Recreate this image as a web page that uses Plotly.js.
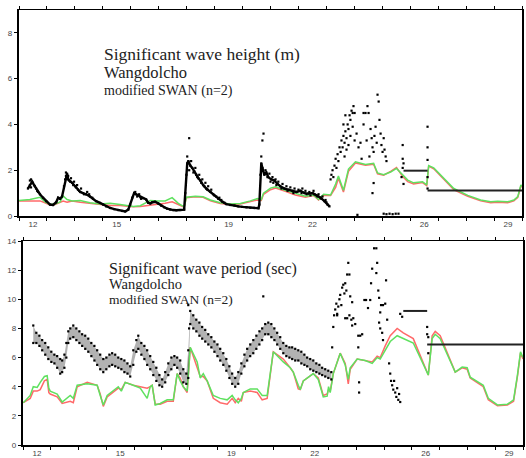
<!DOCTYPE html>
<html><head><meta charset="utf-8">
<script src="https://cdn.plot.ly/plotly-3.0.1.min.js"></script>
<style>html,body{margin:0;padding:0;background:#fff;}#chart{width:526px;height:458px;}</style>
</head><body><div id="chart"></div>
<script>
// ---- shared axis labels ----
const dayLabels = ['12','15','19','22','26','29'];
const dayLabelPos = [12.5,15.5,19.5,22.5,26.5,29.5];

// ---- top panel: significant wave height (m) ----
const hsObsDay = [
12.32,12.39,12.47,12.54,12.61,12.68,12.75,12.86,12.97,13.11,
13.22,13.33,13.40,13.47,13.54,13.61,13.68,13.72,13.76,13.83,
13.90,14.01,14.11,14.19,14.29,14.40,14.54,14.65,14.76,14.90,
15.01,15.12,15.26,15.41,15.55,15.69,15.80,15.91,15.98,16.05,
16.12,16.19,16.27,16.34,16.44,16.55,16.62,16.70,16.77,16.87,
16.98,17.09,17.20,17.30,17.41,17.52,17.63,17.77,17.91,17.95,
17.99,18.02,18.06,18.13,18.20,18.27,18.34,18.42,18.49,18.59,
18.70,18.85,18.99,19.13,19.28,19.42,19.56,19.71,19.85,19.99,
20.14,20.28,20.42,20.57,20.60,20.64,20.67,20.71,20.78,20.85,
20.92,21.03,21.14,21.25,21.35,21.50,21.64,21.78,21.93,22.07,
22.22,22.36,22.50,22.65,22.79,22.93,23.04,23.11];
const hsObsVal = [
1.2,1.35,1.5,1.35,1.2,1.05,0.95,0.8,0.65,0.5,
0.48,0.6,0.8,0.75,0.85,1.3,1.75,1.85,1.6,1.5,
1.45,1.3,1.15,1.05,1.0,0.95,0.85,0.75,0.65,0.57,
0.5,0.42,0.35,0.3,0.26,0.22,0.2,0.28,0.5,0.8,
1.0,0.95,0.9,0.82,0.78,0.72,0.58,0.55,0.6,0.62,
0.55,0.45,0.38,0.32,0.28,0.26,0.25,0.26,0.28,1.0,
1.8,2.3,2.4,2.2,2.1,1.95,1.8,1.65,1.55,1.35,
1.2,1.05,0.9,0.75,0.62,0.52,0.48,0.46,0.42,0.4,
0.38,0.36,0.35,0.34,0.5,1.8,2.3,2.1,1.8,1.9,
1.7,1.6,1.55,1.4,1.3,1.2,1.15,1.1,1.05,1.1,
1.0,0.98,1.0,0.9,0.8,0.65,0.5,0.42];

const hsSpreadDay = [
12.39,12.43,12.50,12.57,12.65,12.43,13.65,13.68,13.76,13.79,
13.86,13.94,13.97,14.04,14.08,14.15,14.22,14.33,14.44,14.51,
14.62,16.16,16.23,16.30,16.37,18.02,18.09,18.09,18.16,18.24,
18.31,18.38,18.45,18.52,18.56,18.63,18.67,18.74,18.77,18.88,
18.95,19.06,19.17,19.24,19.35,20.67,20.71,20.75,20.82,20.89,
20.96,21.00,21.07,21.10,21.18,21.21,21.28,21.39,21.43,21.57,
21.61,21.71,21.82,21.86,22.00,22.11,22.14,22.25,22.29,22.39,
22.43,22.54,22.57,22.68,22.72,22.82,22.86,22.97,23.00,
23.15,23.18,23.22,23.25,23.29,23.33,23.36,23.40,23.43,23.47,
23.51,23.54,23.58,23.61,23.65,23.68,23.72,23.76,23.79,23.83,
23.86,23.90,23.94,23.97,24.01,23.65,23.72,23.79,23.86,23.94,
24.01,24.08,24.15,24.22,23.61,23.68,24.33,24.40,24.47,24.51,
24.58,24.62,24.65,24.69,24.72,24.76,24.80,24.83,24.87,24.90,
24.94,24.97,25.01,25.05,25.08,25.12,24.69,24.65,25.15,25.73,
25.73,25.73,25.69,25.76,25.76,26.62,26.62,26.62,26.62,26.62,
24.33,24.44,24.54,24.26,
24.11,25.05,25.15,25.26,25.37,25.48,25.58];
const hsSpreadVal = [
1.55,1.6,1.45,1.3,1.1,1.25,1.6,1.9,1.75,1.55,
1.65,1.35,1.5,1.25,1.35,1.1,1.2,0.95,1.05,0.95,
0.8,1.05,0.85,0.95,0.75,2.6,3.4,2.0,2.4,1.9,
2.1,1.7,1.8,1.45,1.6,1.3,1.45,1.15,1.3,1.15,
0.95,0.85,0.8,0.7,0.58,2.6,3.3,3.6,2.0,1.7,
1.85,1.5,1.7,1.45,1.6,1.35,1.5,1.2,1.4,1.3,
1.1,1.25,1.0,1.2,1.15,1.0,1.2,1.1,0.95,1.05,
0.9,1.1,0.95,0.85,0.95,0.75,0.85,0.7,0.6,
1.6,1.8,2.0,1.7,2.2,2.5,2.1,2.7,2.4,3.0,
2.8,3.3,3.0,3.5,3.2,3.7,3.4,4.0,3.8,4.4,
4.2,4.6,4.5,4.8,4.5,2.6,2.9,3.1,3.5,3.9,
3.3,3.6,3.0,3.2,4.0,4.4,4.5,4.5,4.8,4.5,
3.8,3.4,3.0,2.8,3.5,3.9,3.2,5.3,5.0,4.2,
3.6,3.1,2.8,3.4,2.9,2.6,1.44,1.0,2.4,3.1,
2.5,2.1,1.7,2.3,1.4,3.9,3.0,2.45,1.7,1.2,
4.0,3.3,2.6,2.5,
0.05,0.1,0.08,0.1,0.08,0.1,0.1];

const hsFlatDay = [25.76,26.62,null,26.62,30.0];
const hsFlatVal = [1.98,1.98,null,1.11,1.11];

const hsModelDay = [
12.00,12.39,12.75,12.93,13.11,13.29,13.47,13.58,13.72,13.90,
14.19,14.54,14.90,15.26,15.62,16.09,16.34,16.52,16.70,16.98,
17.23,17.48,17.70,17.91,17.99,18.31,18.59,18.85,19.20,19.56,
19.92,20.28,20.53,20.67,20.75,21.00,21.18,21.53,21.89,22.25,
22.54,22.72,22.90,23.15,23.33,23.43,23.61,23.79,24.04,24.40,
24.69,24.83,25.05,25.30,25.51,25.73,25.91,26.12,26.44,26.59,
26.66,26.84,27.09,27.34,27.56,27.81,28.06,28.52,28.88,29.13,
29.49,29.71,29.85,29.96,30.00];
const hsGreen = [
0.68,0.72,0.82,0.62,0.50,0.52,0.62,0.88,0.72,0.66,
0.68,0.58,0.52,0.56,0.50,0.42,0.45,0.55,0.68,0.66,
0.66,0.80,0.55,0.40,0.82,0.86,0.84,0.70,0.58,0.52,
0.55,0.66,0.76,0.72,1.00,1.22,1.28,1.12,0.98,0.86,
0.92,0.72,0.95,0.92,1.40,1.75,1.12,2.05,2.37,2.25,
2.30,1.88,1.80,1.92,2.08,1.80,1.57,1.45,1.50,1.36,
2.20,2.10,1.80,1.50,1.20,1.05,0.90,0.70,0.62,0.64,
0.62,0.70,0.85,1.36,1.30];
const hsRed = [
0.65,0.66,0.66,0.58,0.48,0.50,0.58,0.65,0.60,0.65,
0.60,0.55,0.50,0.46,0.46,0.40,0.42,0.45,0.45,0.50,
0.56,0.62,0.50,0.38,0.80,0.84,0.82,0.66,0.55,0.50,
0.52,0.62,0.70,0.68,0.95,1.15,1.22,1.08,0.92,0.82,
0.90,0.70,0.90,0.90,1.25,1.65,1.05,1.95,2.32,2.22,
2.26,1.84,1.78,1.95,2.12,1.72,1.50,1.40,1.46,1.33,
2.18,2.06,1.75,1.45,1.15,1.00,0.86,0.66,0.58,0.60,
0.58,0.66,0.82,1.30,1.28];

// ---- bottom panel: significant wave period (sec) ----
const tpBandDay = [
12.37,12.48,12.59,12.69,12.80,12.91,13.02,13.13,13.23,13.34,
13.41,13.49,13.56,13.63,13.70,13.81,13.92,14.03,14.13,14.24,
14.35,14.46,14.57,14.67,14.78,14.89,15.00,15.11,15.21,15.32,
15.43,15.54,15.65,15.76,15.86,15.97,16.08,16.15,16.26,16.37,
16.47,16.58,16.69,16.80,16.91,17.01,17.12,17.23,17.34,17.45,
17.55,17.66,17.77,17.88,17.95,18.02,18.13,18.24,18.35,18.45,
18.56,18.67,18.78,18.89,19.00,19.10,19.21,19.32,19.43,19.53,
19.64,19.75,19.86,19.97,20.07,20.18,20.29,20.40,20.51,20.61,
20.72,20.83,20.94,21.05,21.15,21.26,21.37,21.48,21.59,21.69,
21.80,21.91,22.02,22.13,22.23,22.34,22.45,22.56,22.67,22.77,
22.88,22.99,23.10];
const tpBandLo = [
7.0,7.0,6.8,6.5,6.2,5.9,5.7,5.6,5.3,4.9,
5.0,5.3,6.0,7.0,7.3,7.4,7.2,7.0,6.8,6.6,
6.4,6.1,5.8,5.5,5.2,5.0,5.2,5.4,5.5,5.4,
5.3,5.2,5.0,4.9,4.7,5.5,6.4,6.6,6.2,5.9,
5.5,5.2,4.8,4.4,4.1,4.0,4.3,4.8,5.2,5.5,
5.3,4.9,4.3,4.2,4.6,8.3,8.0,7.8,7.5,7.3,
7.1,6.9,6.7,6.4,6.1,5.8,5.5,5.1,4.6,4.2,
4.0,4.2,4.9,5.4,5.8,6.1,6.3,6.6,6.9,7.2,
7.6,7.6,7.4,7.2,6.9,6.6,6.3,6.1,6.0,5.9,
5.8,5.8,5.6,5.5,5.4,5.2,5.1,5.0,4.9,4.8,
4.7,4.6,4.5];
const tpBandHi = [
8.2,7.7,7.5,7.2,7.0,6.7,6.4,6.2,6.1,5.9,
5.8,6.2,7.0,7.8,8.0,8.2,8.0,7.8,7.6,7.5,
7.3,7.0,6.8,6.5,6.2,5.9,6.0,6.2,6.3,6.2,
6.0,5.9,5.8,5.6,5.4,6.5,7.2,7.5,7.0,6.8,
6.5,6.1,5.7,5.3,4.8,4.5,5.0,5.6,6.0,6.1,
6.0,5.8,5.2,4.9,6.5,9.2,8.9,8.6,8.4,8.1,
7.9,7.6,7.4,7.1,6.9,6.6,6.3,5.9,5.4,4.9,
4.6,5.0,5.6,6.2,6.6,6.9,7.2,7.5,7.8,8.0,
8.3,8.4,8.3,8.0,7.7,7.4,7.0,6.8,6.7,6.7,
6.6,6.5,6.4,6.2,6.0,5.9,5.8,5.6,5.5,5.3,
5.2,5.1,5.0];

const tpScatDay = [
17.95,17.98,20.65,
23.13,23.17,23.20,23.24,23.28,23.31,23.35,23.39,23.42,23.46,
23.49,23.53,23.57,23.60,23.64,23.67,23.71,23.75,23.78,23.67,
23.75,23.82,23.89,23.85,23.96,24.07,24.14,24.21,24.07,24.10,
24.10,24.29,24.35,24.42,24.50,24.53,24.57,24.64,24.72,24.75,
24.72,24.79,24.82,24.86,24.89,24.96,25.04,24.82,24.86,24.93,
24.96,25.07,25.11,25.18,25.22,25.25,25.29,25.33,25.36,25.40,
25.44,25.47,25.51,25.54,25.58,25.58,25.65,26.55,26.55,26.59,
26.59,23.60,23.85,23.31];
const tpScatVal = [
9.6,8.0,10.2,
6.7,8.1,8.9,9.3,9.7,9.0,9.5,10.0,10.3,9.6,
10.8,11.0,10.4,11.1,10.6,11.7,12.5,11.7,10.2,8.7,
8.9,8.6,8.7,9.8,8.3,7.5,7.5,7.6,6.7,4.3,
3.6,9.95,9.95,9.4,9.95,11.1,12.1,13.5,13.5,12.5,
11.8,10.6,10.1,9.1,9.6,9.6,9.7,8.4,8.0,7.7,
7.2,11.3,8.6,5.6,4.9,4.4,4.1,3.8,4.4,3.6,
3.3,3.9,3.1,3.5,2.95,9.0,8.8,8.1,7.6,7.4,
6.3,8.7,8.2,8.9];

const tpFlatDay = [25.69,26.55,null,26.55,30.0];
const tpFlatVal = [9.2,9.2,null,6.9,6.9];

const tpModelDay = [
12.01,12.26,12.37,12.51,12.62,12.77,12.87,12.93,12.98,13.23,
13.41,13.59,13.70,13.81,13.95,14.31,14.67,14.78,14.89,15.03,
15.25,15.43,15.54,15.68,15.97,16.22,16.47,16.58,16.65,16.76,
16.94,17.19,17.41,17.55,17.66,17.77,17.91,18.02,18.27,18.38,
18.49,18.63,18.85,19.10,19.35,19.53,19.64,19.75,19.86,19.93,
20.18,20.43,20.61,20.79,21.01,21.37,21.62,21.73,21.91,21.98,
22.09,22.45,22.63,22.70,22.81,22.95,23.00,23.06,23.17,23.42,
23.60,23.71,23.78,24.03,24.32,24.57,24.75,24.86,25.04,25.22,
25.47,25.69,26.05,26.30,26.59,26.73,26.84,27.02,27.27,27.56,
27.81,27.99,28.10,28.57,28.75,29.08,29.44,29.66,29.80,29.91,
30.00];
const tpGreen = [
2.9,3.4,4.0,3.95,4.3,4.7,4.75,3.9,3.7,3.5,
2.95,3.2,3.4,3.2,4.1,4.2,4.1,3.4,2.75,3.4,
3.7,4.0,3.7,4.3,4.1,3.9,3.2,4.0,4.1,2.75,
2.85,3.1,3.1,4.9,4.4,4.0,3.7,6.7,5.7,4.6,
4.9,4.4,3.4,3.2,3.1,3.4,3.1,2.9,3.2,3.6,
3.85,3.85,3.4,3.4,6.4,5.7,5.3,5.0,4.1,3.8,
4.4,4.9,4.5,4.0,3.3,3.35,4.0,3.6,4.9,6.3,
5.5,4.5,5.3,5.9,5.8,5.6,6.0,5.9,6.5,7.1,
7.5,7.3,7.0,6.0,4.8,7.3,7.6,7.3,6.2,5.0,
5.35,5.3,4.65,4.1,3.2,2.75,2.8,3.1,4.8,6.4,
6.0];
const tpRed = [
2.9,3.2,3.7,3.7,3.8,4.4,4.5,3.6,3.5,3.3,
2.85,2.95,3.0,2.9,4.0,4.3,4.1,3.5,2.65,3.3,
3.6,3.9,3.8,4.3,4.1,4.0,3.9,4.0,4.1,2.8,
2.8,3.0,3.0,4.9,4.6,4.0,3.6,6.7,5.3,4.7,
4.7,4.4,3.2,2.9,2.8,3.2,2.9,3.2,3.0,3.6,
3.7,3.6,3.1,3.2,6.4,5.9,5.3,5.0,3.85,3.8,
4.4,4.9,4.6,4.1,3.4,3.5,3.8,3.7,4.9,6.3,
5.6,4.2,5.2,5.9,5.8,5.7,6.1,6.0,6.8,7.5,
8.0,7.7,7.3,6.2,4.8,7.5,7.8,7.5,6.3,5.0,
5.3,5.2,4.6,4.0,3.1,2.7,2.75,3.0,4.7,6.3,
5.9];

// ---- styling ----
const RED = 'rgb(255,105,105)';
const GREEN = 'rgb(95,225,95)';
const mk = {color:'black', size:2.2, symbol:'square'};

const traces = [
  {x:hsModelDay, y:hsRed, xaxis:'x', yaxis:'y', mode:'lines', line:{color:RED, width:1.5}},
  {x:hsModelDay, y:hsGreen, xaxis:'x', yaxis:'y', mode:'lines', line:{color:GREEN, width:1.5}},
  {x:hsObsDay, y:hsObsVal, xaxis:'x', yaxis:'y', mode:'lines+markers', line:{color:'black', width:2.4}, marker:mk},
  {x:hsSpreadDay, y:hsSpreadVal, xaxis:'x', yaxis:'y', mode:'markers', marker:mk},
  {x:hsFlatDay, y:hsFlatVal, xaxis:'x', yaxis:'y', mode:'lines', line:{color:'#222', width:2}, connectgaps:false},

  {x:tpModelDay, y:tpRed, xaxis:'x2', yaxis:'y2', mode:'lines', line:{color:RED, width:1.5}},
  {x:tpModelDay, y:tpGreen, xaxis:'x2', yaxis:'y2', mode:'lines', line:{color:GREEN, width:1.5}},
  {x:tpBandDay, y:tpBandLo, xaxis:'x2', yaxis:'y2', mode:'lines', line:{width:0, color:'rgba(0,0,0,0)'}},
  {x:tpBandDay, y:tpBandHi, xaxis:'x2', yaxis:'y2', mode:'lines', line:{width:0, color:'rgba(0,0,0,0)'}, fill:'tonexty', fillcolor:'rgba(0,0,0,0.3)'},
  {x:tpBandDay, y:tpBandLo, xaxis:'x2', yaxis:'y2', mode:'markers', marker:mk},
  {x:tpBandDay, y:tpBandHi, xaxis:'x2', yaxis:'y2', mode:'markers', marker:mk},
  {x:tpScatDay, y:tpScatVal, xaxis:'x2', yaxis:'y2', mode:'markers', marker:mk},
  {x:tpFlatDay, y:tpFlatVal, xaxis:'x2', yaxis:'y2', mode:'lines', line:{color:'#222', width:2}, connectgaps:false}
];

const tickFont = {family:'Liberation Sans, Arial, sans-serif', size:8, color:'#444'};
function xAx(dom, anchor){
  return {domain:dom, anchor:anchor, range:[12,30], tickmode:'array', tickvals:dayLabelPos, ticktext:dayLabels,
    ticks:'', showline:true, linecolor:'black', linewidth:1.5, mirror:'ticks', showgrid:false, zeroline:false,
    tickfont:tickFont, fixedrange:true,
    minor:{tickmode:'linear', tick0:12, dtick:1, ticks:'outside', ticklen:3, tickcolor:'black', tickwidth:1, showgrid:false}};
}
function yAx(dom, anchor, maxV, vals){
  return {domain:dom, anchor:anchor, range:[0,maxV], tickmode:'array', tickvals:vals, ticks:'outside', ticklen:3,
    tickcolor:'black', showline:true, linecolor:'black', linewidth:2.2, mirror:true, showgrid:false, zeroline:false,
    tickfont:tickFont, fixedrange:true};
}
const W = 526, H = 458;
const serif = 'Liberation Serif, Times New Roman, serif';
// one text block per panel; line spacing = 1.3 x base size
function block(px, pyTop, base, lines){
  return {xref:'paper', yref:'paper', x:px/W, y:1-pyTop/H, xanchor:'left', yanchor:'top', align:'left', showarrow:false,
    text: lines.map(l => '<span style="font-size:'+l[1]+'px">'+l[0]+'</span>').join('<br>'),
    font:{family:serif, size:base, color:'#222'}};
}
const topTitle = ['Significant wave height (m)', 'Wangdolcho', 'modified SWAN (n=2)'];
const botTitle = ['Significant wave period (sec)', 'Wangdolcho', 'modified SWAN (n=2)'];
const layout = {
  width:W, height:H, margin:{l:0,r:0,t:0,b:0}, paper_bgcolor:'white', plot_bgcolor:'white', showlegend:false,
  xaxis: xAx([19/W, 522/W], 'y'),
  yaxis: yAx([1-216/H, 1-10/H], 'x', 9, [0,2,4,6,8]),
  xaxis2: xAx([23/W, 523/W], 'y2'),
  yaxis2: yAx([1-445/H, 1-241/H], 'x2', 14, [0,2,4,6,8,10,12,14]),
  annotations:[
    block(102, 42, 13.5, [[topTitle[0],17.5],[topTitle[1],16.5],[topTitle[2],14]]),
    block(107, 258, 11.5, [[botTitle[0],16],[botTitle[1],14.5],[botTitle[2],13.5]])
  ]
};
Plotly.newPlot('chart', traces, layout, {staticPlot:true, displayModeBar:false});
</script>
</body></html>
